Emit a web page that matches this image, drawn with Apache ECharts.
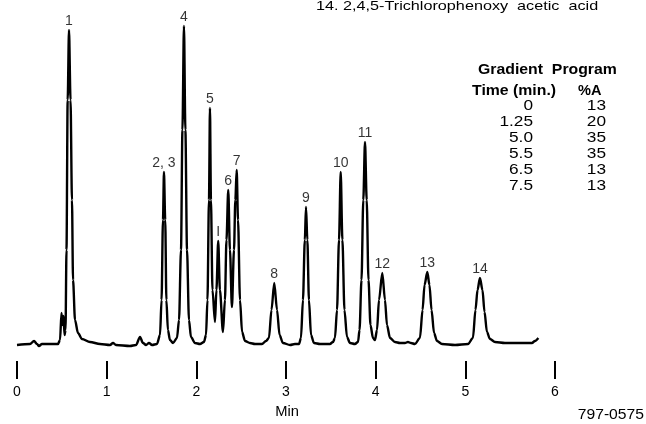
<!DOCTYPE html>
<html>
<head>
<meta charset="utf-8">
<script src="https://cdn.jsdelivr.net/npm/echarts@6/dist/echarts.min.js"></script>
<style>
html, body { margin: 0; padding: 0; background: #fff; }
#chart { width: 646px; height: 424px; }
</style>
</head>
<body>
<div id="chart"></div>
<script>
// detector trace (time in min, signal in arbitrary units, baseline = 0)
var traceTime = [
        0, 0.145, 0.19, 0.223, 0.245, 0.279, 0.368, 0.457, 0.48, 0.496, 0.507, 0.519, 0.53,
        0.541, 0.552, 0.565, 0.58, 0.597, 0.613, 0.625, 0.647, 0.68, 0.725, 0.814, 0.926,
        1.037, 1.071, 1.104, 1.26, 1.327, 1.372, 1.405, 1.439, 1.472, 1.506, 1.561,
        1.595, 1.612, 1.628, 1.639, 1.653, 1.666, 1.683, 1.706, 1.74,
        1.784, 1.807, 1.829, 1.845, 1.862, 1.878, 1.896, 1.918, 1.94, 1.985, 2.041, 2.085,
        2.108, 2.124, 2.141, 2.152, 2.163, 2.18, 2.208,
        2.224, 2.244, 2.263, 2.297,
        2.319, 2.336, 2.356, 2.375, 2.397,
        2.42, 2.435, 2.45, 2.465, 2.487, 2.51, 2.543, 2.598, 2.654, 2.732, 2.777,
        2.81, 2.838, 2.869, 2.9, 2.928, 2.966, 3.045, 3.1, 3.145,
        3.167, 3.189, 3.21, 3.223, 3.238, 3.256, 3.279, 3.312, 3.379, 3.49, 3.524,
        3.546, 3.569, 3.591, 3.61, 3.629, 3.652, 3.68, 3.714, 3.769, 3.803,
        3.82, 3.842, 3.862, 3.881, 3.9, 3.92, 3.942, 3.97, 3.992,
        4.015, 4.037, 4.074, 4.104, 4.126, 4.16, 4.215, 4.271, 4.327, 4.36, 4.394, 4.438,
        4.494, 4.523, 4.545, 4.576, 4.6, 4.623, 4.651, 4.684, 4.74, 4.885, 5.03,
        5.085, 5.113, 5.136, 5.163, 5.191, 5.214, 5.241, 5.275, 5.331, 5.442, 5.61, 5.743, 5.777, 5.814
];
var traceSignal = [
        0, 1, 4, 1, -1, 1, 1, 1, 5, 32, 20, 29, 10,
        15, 95, 245, 315, 245, 145, 65, 25, 12, 6, 3, 1,
        0, 2, 0, -1, 0, 8, 2, 0, 2, 0, 1,
        10, 45, 125, 173, 125, 45, 15, 5, 2,
        7, 25, 95, 215, 319, 215, 95, 25, 8, 2, 1, 3,
        10, 45, 145, 237, 145, 55, 23,
        55, 104, 55, 13,
        45, 105, 155, 95, 38,
        95, 145, 175, 125, 45, 13, 4, 2, 1, 1, 4,
        7, 35, 62, 35, 10, 2, 0, 1, 1,
        7, 45, 105, 138, 105, 45, 10, 2, 1, 1, 3,
        7, 35, 105, 173, 105, 35, 8, 2, 1, 3,
        15, 65, 145, 203, 145, 65, 20, 7, 5,
        15, 45, 72, 45, 20, 7, 3, 2, 2, 3, 2, 1,
        7, 35, 60, 73, 60, 35, 12, 4, 1, 0, 1,
        7, 35, 55, 67, 55, 33, 13, 6, 3, 2, 2, 2, 4, 7
];

// peak labels
var peakNames = ['1', '2, 3', '4', '5', 'I', '6', '7', '8', '9', '10', '11', '12', '13', '14'];
var peakTime = [0.58, 1.639, 1.862, 2.152, 2.244, 2.356, 2.45, 2.869, 3.223, 3.61, 3.881, 4.074, 4.576, 5.163];
var peakSignal = [315, 173, 319, 237, 104, 155, 175, 62, 138, 173, 203, 72, 73, 67];

// gradient program table
var gradTime = ['0', '1.25', '5.0', '5.5', '6.5', '7.5'];
var gradA = ['13', '20', '35', '35', '13', '13'];

var noteText = '14. 2,4,5-Trichlorophenoxy  acetic  acid';
var figId = '797-0575';

var font = 'Liberation Sans, Arial, sans-serif';

var traceData = [];
for (var i = 0; i < traceTime.length; i++) {
        traceData.push([traceTime[i], traceSignal[i]]);
}
var peakData = [];
for (var j = 0; j < peakNames.length; j++) {
        peakData.push({ value: [peakTime[j], peakSignal[j]], name: peakNames[j] });
}

// the original lettering is widely spaced, so the texts are stretched a little
function txt(x, y, s, f, align, sx) {
        return { type: 'text', x: x, y: y, scaleX: sx || 1,
                style: { text: s, font: f, fill: '#000', align: align || 'left', verticalAlign: 'middle' } };
}
var graphics = [
        txt(316, 6, noteText, '13.5px ' + font, 'left', 1.2),
        txt(478, 70, 'Gradient  Program', 'bold 14px ' + font, 'left', 1.13),
        txt(472, 91, 'Time (min.)', 'bold 14px ' + font, 'left', 1.13),
        txt(578, 91, '%A', 'bold 14px ' + font, 'left', 1.04),
        txt(644, 415, figId, '14px ' + font, 'right', 1.12),
        txt(287, 412, 'Min', '14px ' + font, 'center', 1.05)
];
for (var k = 0; k < gradTime.length; k++) {
        graphics.push(txt(533, 106 + k * 16, gradTime[k], '15px ' + font, 'right', 1.15));
        graphics.push(txt(606, 106 + k * 16, gradA[k], '15px ' + font, 'right', 1.15));
}

var chart = echarts.init(document.getElementById('chart'));
var option = {
        animation: false,
        backgroundColor: '#fff',
        // trace grid (value 0 sits on y = 345) and a flat grid below it that only carries the time ticks
        grid: [
                { left: 17, right: 91, top: 5, bottom: 69, outerBoundsMode: 'none' },
                { left: 17, right: 91, top: 361, height: 1, outerBoundsMode: 'none' }
        ],
        xAxis: [
                { gridIndex: 0, type: 'value', min: 0, max: 6, show: false },
                {
                        gridIndex: 1,
                        type: 'value',
                        min: 0,
                        max: 6,
                        interval: 1,
                        position: 'top',
                        axisLine: { show: false, onZero: false },
                        axisTick: { show: true, inside: true, length: 18, lineStyle: { color: '#000', width: 2 } },
                        axisLabel: { inside: true, margin: 24, color: '#000', fontSize: 14, fontFamily: font },
                        splitLine: { show: false }
                }
        ],
        yAxis: [
                { gridIndex: 0, type: 'value', min: -10, max: 340, show: false },
                { gridIndex: 1, type: 'value', min: 0, max: 1, show: false }
        ],
        series: [
                {
                        name: 'trace',
                        type: 'line',
                        data: traceData,
                        showSymbol: false,
                        smooth: 0.3,
                        smoothMonotone: 'x',
                        lineStyle: { color: '#000', width: 2.4 },
                        silent: true
                },
                {
                        name: 'peaks',
                        type: 'scatter',
                        data: peakData,
                        symbolSize: 0,
                        label: {
                                show: true,
                                position: 'top',
                                distance: 2,
                                formatter: function (p) { return p.name; },
                                color: '#000',
                                fontSize: 14,
                                fontFamily: font
                        },
                        silent: true
                }
        ],
        graphic: graphics
};
chart.setOption(option);
</script>
</body>
</html>
